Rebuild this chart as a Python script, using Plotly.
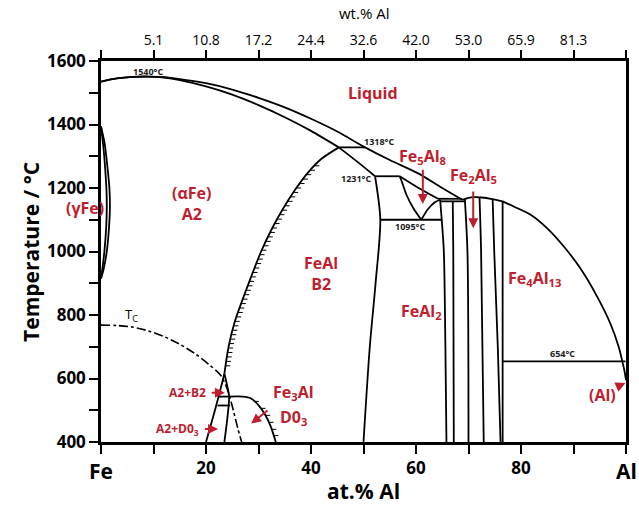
import numpy as np
import plotly.graph_objects as go

# ---------------- data (at.% Al, temperature in degC) ----------------
liq_fe_x = [0, 3, 6, 9, 12, 15, 20, 25, 30, 35, 40, 45, 50.3, 55, 60.4, 64.5, 68.8]
liq_fe_T = [1535, 1545, 1550, 1551, 1549, 1543, 1530, 1510, 1484, 1454, 1418, 1378, 1328, 1288, 1246, 1205, 1163]

sol_fe_x = [0, 3, 6, 9, 12, 15, 20, 25, 30, 35, 40, 45.3]
sol_fe_T = [1535, 1545, 1550, 1551, 1548, 1540, 1520, 1494, 1461, 1423, 1380, 1328]

eps_top_x = [45.3, 48.8, 52.2]
eps_top_T = [1328, 1283, 1237]

line1318_x = [45.3, 50.3]
line1318_T = [1328, 1328]
line1231_x = [52.2, 56.9]
line1231_T = [1237, 1237]
line1095_x = [53.2, 64.8]
line1095_T = [1100, 1100]
line654_x = [76.5, 99.9]
line654_T = [654, 654]

b2_right_x = [52.2, 53.2, 52.3, 51.2, 50.0]
b2_right_T = [1237, 1100, 900, 700, 400]

eps_left_x = [56.9, 57.3, 58.2, 59.5, 61.0]
eps_left_T = [1237, 1220, 1178, 1136, 1100]
eps_right_x = [61.0, 62.3, 63.6, 64.6]
eps_right_T = [1100, 1134, 1155, 1163]
eps_sol_x = [56.9, 60.5, 64.2]
eps_sol_T = [1237, 1200, 1166]

peri1_x = [64.2, 68.8]
peri1_T = [1166, 1166]
peri2_x = [64.6, 69.2]
peri2_T = [1158, 1158]

feal2_left_x = [64.6, 64.9, 65.3, 65.6, 65.8]
feal2_left_T = [1163, 1100, 1000, 700, 400]
feal2_right_x = [67.0, 67.1, 67.2]
feal2_right_T = [1158, 1000, 400]

fe2al5_dome_x = [68.8, 70.0, 71.2, 72.5, 74.5, 76.5]
fe2al5_dome_T = [1163, 1169, 1171, 1170, 1165, 1158]
fe2al5_left_x = [69.3, 69.8, 70.0]
fe2al5_left_T = [1165, 1000, 400]
fe2al5_right_x = [72.1, 72.4, 72.9]
fe2al5_right_T = [1170, 1000, 400]

fe4al13_left_x = [74.6, 74.9, 75.6, 76.1]
fe4al13_left_T = [1164, 1000, 690, 400]
fe4al13_right_x = [76.5, 76.5]
fe4al13_right_T = [1158, 400]

liq_al_x = [76.5, 78.7, 81.9, 85.0, 88.2, 91.3, 94.5, 97.0, 98.6, 99.3]
liq_al_T = [1158, 1141, 1115, 1073, 1015, 947, 858, 774, 700, 654]

al_solvus_x = [99.3, 99.7, 100]
al_solvus_T = [654, 625, 595]

gamma_out_x = [0, 0.7, 1.2, 1.6, 1.7, 1.5, 1.1, 0.5, 0]
gamma_out_T = [1394, 1340, 1270, 1200, 1140, 1070, 1000, 945, 915]
gamma_in_x = [0, 0.45, 0.8, 1.05, 1.1, 1.0, 0.7, 0.3, 0]
gamma_in_T = [1394, 1330, 1260, 1190, 1140, 1080, 1010, 950, 915]

b2_bound_x = [23.5, 24.3, 25.5, 27.0, 28.7, 30.5, 32.5, 34.5, 37.0, 39.5, 42.0, 45.3]
b2_bound_T = [615, 700, 780, 850, 925, 1000, 1070, 1130, 1195, 1250, 1292, 1328]

a2_left_x = [23.5, 22.4, 21.2, 20.0]
a2_left_T = [615, 543, 470, 400]
a2_right_x = [23.5, 24.0, 24.4, 24.1, 23.5]
a2_right_T = [615, 580, 543, 480, 400]

line543_x = [22.4, 24.4]
line543_T = [543, 543]
line515_x = [22.2, 24.6]
line515_T = [515, 515]

d03_dome_x = [24.4, 27.0, 28.5, 30.1, 31.3, 32.3, 33.3]
d03_dome_T = [543, 543, 538, 514, 485, 450, 400]

tc_x = [0, 3, 6, 9, 12, 15, 18, 20.5, 22.8, 24.2, 25.2, 26.1, 26.8]
tc_T = [768, 767, 762, 750, 732, 708, 677, 645, 610, 560, 500, 440, 400]

# hatch marks (decoration) along ordering boundaries
hatch_b2_T = list(range(1270, 630, -14))
hatch_d03_T = [528, 506, 484, 462, 440, 420]

# axes
x_ticks = [0, 10, 20, 30, 40, 50, 60, 70, 80, 90, 100]
x_ticktext = ["", "", "20", "", "40", "", "60", "", "80", "", ""]
wt_ticktext = ["", "5.1", "10.8", "17.2", "24.4", "32.6", "42.0", "53.0", "65.9", "81.3", ""]
y_ticks = [400, 500, 600, 700, 800, 900, 1000, 1100, 1200, 1300, 1400, 1500, 1600]
y_ticktext = ["400", "", "600", "", "800", "", "1000", "", "1200", "", "1400", "", "1600"]

RED = "#BE1E2D"
FONT = "Open Sans"

fig = go.Figure()


def add_line(x, y, dash="solid", width=1.8, xaxis="x"):
    fig.add_trace(go.Scatter(x=x, y=y, mode="lines", xaxis=xaxis,
                             line=dict(color="black", width=width, dash=dash,
                                       shape="spline", smoothing=0.8),
                             hoverinfo="skip", showlegend=False))


for xs, ts in [
    (liq_fe_x, liq_fe_T), (sol_fe_x, sol_fe_T), (eps_top_x, eps_top_T),
    (line1318_x, line1318_T), (line1231_x, line1231_T), (line1095_x, line1095_T),
    (line654_x, line654_T), (b2_right_x, b2_right_T), (eps_left_x, eps_left_T),
    (eps_right_x, eps_right_T), (eps_sol_x, eps_sol_T), (peri1_x, peri1_T),
    (peri2_x, peri2_T), (feal2_left_x, feal2_left_T), (feal2_right_x, feal2_right_T),
    (fe2al5_dome_x, fe2al5_dome_T), (fe2al5_left_x, fe2al5_left_T),
    (fe2al5_right_x, fe2al5_right_T), (fe4al13_left_x, fe4al13_left_T),
    (fe4al13_right_x, fe4al13_right_T), (liq_al_x, liq_al_T),
    (al_solvus_x, al_solvus_T), (gamma_out_x, gamma_out_T), (gamma_in_x, gamma_in_T),
    (b2_bound_x, b2_bound_T), (a2_left_x, a2_left_T), (a2_right_x, a2_right_T),
    (line543_x, line543_T), (line515_x, line515_T), (d03_dome_x, d03_dome_T),
]:
    add_line(xs, ts)

add_line(tc_x, tc_T, dash="dashdot", width=1.6)

# hatch marks
hx, hy = [], []
HL = 0.9
for t in hatch_b2_T:
    xb = float(np.interp(t, b2_bound_T, b2_bound_x))
    hx += [xb, xb + HL, None]
    hy += [t, t, None]
for t in hatch_d03_T:
    xb = float(np.interp(t, d03_dome_T[::-1], d03_dome_x[::-1]))
    hx += [xb, xb + HL, None]
    hy += [t, t, None]
fig.add_trace(go.Scatter(x=hx, y=hy, mode="lines", line=dict(color="black", width=1),
                         hoverinfo="skip", showlegend=False))

# dummy trace for top axis
fig.add_trace(go.Scatter(x=[0, 100], y=[400, 400], mode="lines", xaxis="x2",
                         line=dict(width=0, color="rgba(0,0,0,0)"),
                         hoverinfo="skip", showlegend=False))

ann = []


def label(text, x, y, size=16, color=RED, bold=True, xanchor="center", xref="x"):
    ann.append(dict(text=text, x=x, y=y, xref=xref, yref="y", showarrow=False,
                    xanchor=xanchor, yanchor="middle",
                    font=dict(family=FONT, size=size, color=color,
                              weight="bold" if bold else "normal")))


def arrow(x, y, ax, ay):
    ann.append(dict(text="", x=x, y=y, ax=ax, ay=ay, xref="x", yref="y",
                    axref="x", ayref="y", showarrow=True, arrowhead=2,
                    arrowsize=1, arrowwidth=2, arrowcolor=RED))


label("Liquid", 51.9, 1498)
label("(αFe)<br>A2", 17.2, 1152)
label("(γFe)", -0.030, 1136, xref="paper")
label("FeAl<br>B2", 41.9, 930)
label("FeAl<sub>2</sub>", 61.0, 810)
label("Fe<sub>4</sub>Al<sub>13</sub>", 82.6, 916)
label("Fe<sub>5</sub>Al<sub>8</sub>", 61.2, 1300)
label("Fe<sub>2</sub>Al<sub>5</sub>", 71.0, 1240)
label("Fe<sub>3</sub>Al", 36.6, 556)
label("D0<sub>3</sub>", 36.6, 478)
label("A2+B2", 20.3, 555, size=12, xanchor="right")
label("A2+D0<sub>3</sub>", 19.1, 441, size=12, xanchor="right")
label("(Al)", 95.5, 548)
label("T<sub>C</sub>", 5.8, 800, size=13, color="black", bold=False)
label("1540°C", 9.0, 1566, size=9, color="#222222")
label("1318°C", 53.0, 1346, size=9, color="#222222")
label("1231°C", 51.8, 1230, size=9, color="#222222", xanchor="right")
label("1095°C", 58.8, 1078, size=9, color="#222222")
label("654°C", 87.9, 679, size=9, color="#222222")

arrow(61.3, 1150, 61.3, 1262)
arrow(70.9, 1073, 70.9, 1194)
arrow(28.6, 458, 32.0, 503)
arrow(23.6, 555, 20.8, 555)
arrow(22.3, 441, 19.5, 441)
arrow(99.9, 586, 98.3, 574)

# axis titles / end labels
ann.append(dict(text="Temperature / °C", xref="paper", yref="paper", x=-0.1345, y=0.5,
                textangle=-90, showarrow=False, xanchor="center", yanchor="middle",
                font=dict(family=FONT, size=21, color="black", weight="bold")))
ann.append(dict(text="at.% Al", xref="paper", yref="paper", x=0.5, y=-0.1286,
                showarrow=False, xanchor="center", yanchor="middle",
                font=dict(family=FONT, size=21, color="black", weight="bold")))
ann.append(dict(text="wt.% Al", xref="paper", yref="paper", x=0.5, y=1.126,
                showarrow=False, xanchor="center", yanchor="middle",
                font=dict(family=FONT, size=15, color="black")))
ann.append(dict(text="Fe", xref="x", yref="paper", x=0, y=-0.076,
                showarrow=False, xanchor="center", yanchor="middle",
                font=dict(family=FONT, size=21, color="black", weight="bold")))
ann.append(dict(text="Al", xref="x", yref="paper", x=100, y=-0.076,
                showarrow=False, xanchor="center", yanchor="middle",
                font=dict(family=FONT, size=21, color="black", weight="bold")))

fig.update_layout(
    width=639, height=508,
    margin=dict(l=101, r=10, t=61, b=66),
    paper_bgcolor="white", plot_bgcolor="white",
    annotations=ann,
    xaxis=dict(range=[0, 100], tickmode="array", tickvals=x_ticks, ticktext=x_ticktext,
               ticks="outside", ticklen=9, tickwidth=2, tickcolor="black",
               showline=True, linewidth=2.5, linecolor="black", showgrid=False,
               zeroline=False, mirror=False,
               tickfont=dict(family=FONT, size=17, color="black", weight="bold")),
    xaxis2=dict(range=[0, 100], overlaying="x", side="top", anchor="y",
                tickmode="array", tickvals=x_ticks, ticktext=wt_ticktext,
                ticks="outside", ticklen=8, tickwidth=2, tickcolor="black",
                showline=True, linewidth=2.5, linecolor="black", showgrid=False,
                zeroline=False,
                tickfont=dict(family=FONT, size=14, color="black")),
    yaxis=dict(range=[400, 1600], tickmode="array", tickvals=y_ticks, ticktext=y_ticktext,
               ticks="outside", ticklen=9, tickwidth=2, tickcolor="black",
               showline=True, linewidth=2.5, linecolor="black", showgrid=False,
               zeroline=False, mirror=True,
               tickfont=dict(family=FONT, size=17, color="black", weight="bold")),
)

fig.write_html("out.html")
